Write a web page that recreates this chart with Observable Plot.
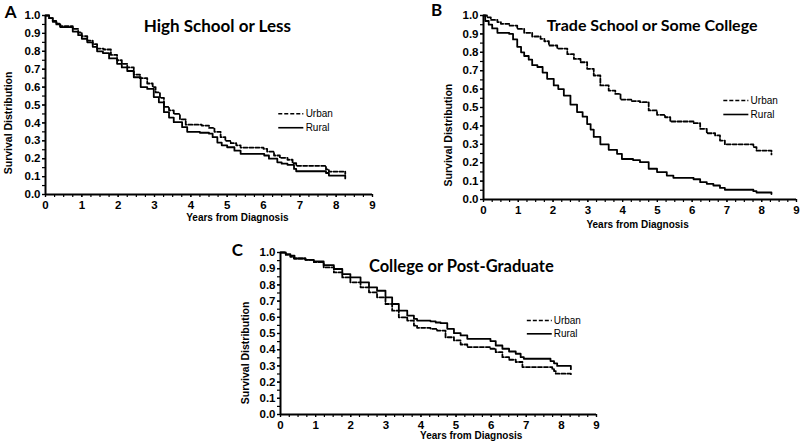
<!DOCTYPE html>
<html>
<head>
<meta charset="utf-8">
<script src="https://cdn.jsdelivr.net/npm/d3@7"></script>
<script src="https://cdn.jsdelivr.net/npm/@observablehq/plot@0.6"></script>
<style>
  body { margin: 0; background: #fff; }
  #wrap { position: relative; width: 800px; height: 443px; overflow: hidden; background: #fff; }
  #wrap > div { position: absolute; }
</style>
</head>
<body>
<div id="wrap">
  <div id="pc" style="left:190px;top:222px"></div>
  <div id="pa" style="left:0px;top:0px"></div>
  <div id="pb" style="left:400px;top:0px"></div>
</div>
<script>
// ---- data ----
const yearTicks = [0, 1, 2, 3, 4, 5, 6, 7, 8, 9];
const survivalTicks = [0, 0.1, 0.2, 0.3, 0.4, 0.5, 0.6, 0.7, 0.8, 0.9, 1.0];
const seriesNames = ["Urban", "Rural"];
const panelLetters = ["A", "B", "C"];
const panelTitles = ["High School or Less", "Trade School or Some College", "College or Post-Graduate"];
const xAxisTitle = "Years from Diagnosis";
const yAxisTitle = "Survival Distribution";

// Panel A: High School or Less
const aUrbanT = [0, 0.1, 0.2, 0.3, 0.4, 0.75, 0.9, 1.0, 1.15, 1.3, 1.42, 1.6, 1.8, 1.97, 2.1, 2.25, 2.43, 2.6, 2.8, 2.95, 3.03, 3.15, 3.26, 3.4, 3.53, 3.7, 3.86, 4.3, 4.5, 4.65, 4.82, 4.95, 5.1, 5.25, 5.37, 6.0, 6.1, 6.29, 6.45, 6.66, 6.8, 6.9, 7.72, 7.8, 8.25];
const aUrbanS = [1.0, 0.985, 0.97, 0.955, 0.94, 0.925, 0.905, 0.885, 0.86, 0.84, 0.815, 0.81, 0.78, 0.75, 0.73, 0.71, 0.67, 0.65, 0.62, 0.60, 0.57, 0.54, 0.49, 0.47, 0.45, 0.42, 0.39, 0.385, 0.372, 0.35, 0.32, 0.30, 0.287, 0.275, 0.262, 0.255, 0.24, 0.218, 0.205, 0.194, 0.175, 0.16, 0.14, 0.128, 0.115];
const aRuralT = [0, 0.1, 0.2, 0.3, 0.41, 0.75, 0.9, 1.0, 1.15, 1.3, 1.42, 1.58, 1.75, 1.97, 2.1, 2.25, 2.43, 2.62, 2.8, 2.98, 3.12, 3.26, 3.4, 3.53, 3.76, 3.9, 4.25, 4.5, 4.6, 4.73, 4.85, 5.0, 5.2, 5.37, 6.02, 6.15, 6.38, 6.5, 6.66, 6.84, 6.9, 7.72, 7.8, 8.25];
const aRuralS = [1.0, 0.985, 0.965, 0.95, 0.935, 0.91, 0.89, 0.87, 0.85, 0.825, 0.80, 0.79, 0.76, 0.73, 0.71, 0.69, 0.655, 0.60, 0.59, 0.544, 0.515, 0.46, 0.43, 0.404, 0.376, 0.35, 0.345, 0.34, 0.32, 0.29, 0.275, 0.264, 0.245, 0.227, 0.218, 0.20, 0.18, 0.172, 0.166, 0.143, 0.13, 0.12, 0.106, 0.09];

// Panel B: Trade School or Some College
const bUrbanT = [0, 0.1, 0.21, 0.4, 0.5, 0.75, 0.97, 1.17, 1.4, 1.64, 1.75, 1.88, 2.12, 2.41, 2.6, 2.79, 2.98, 3.17, 3.36, 3.6, 3.79, 3.94, 4.25, 4.5, 4.75, 4.99, 5.22, 5.37, 6.04, 6.23, 6.42, 6.66, 6.8, 6.94, 7.76, 7.85, 8.28];
const bUrbanS = [1.0, 0.99, 0.976, 0.964, 0.955, 0.945, 0.927, 0.906, 0.886, 0.873, 0.86, 0.837, 0.82, 0.79, 0.764, 0.746, 0.71, 0.674, 0.62, 0.592, 0.574, 0.543, 0.535, 0.529, 0.484, 0.46, 0.447, 0.424, 0.415, 0.384, 0.36, 0.348, 0.32, 0.30, 0.285, 0.266, 0.245];
const bRuralT = [0, 0.05, 0.15, 0.25, 0.4, 0.74, 0.85, 0.97, 1.08, 1.17, 1.3, 1.4, 1.55, 1.7, 1.83, 2.02, 2.15, 2.31, 2.5, 2.69, 2.85, 2.98, 3.08, 3.17, 3.36, 3.6, 3.84, 3.98, 4.3, 4.5, 4.75, 4.99, 5.27, 5.46, 6.04, 6.23, 6.42, 6.61, 6.8, 6.94, 7.76, 7.85, 8.28];
const bRuralS = [1.0, 0.97, 0.95, 0.93, 0.906, 0.90, 0.87, 0.83, 0.80, 0.78, 0.76, 0.73, 0.72, 0.69, 0.656, 0.62, 0.60, 0.565, 0.516, 0.475, 0.45, 0.41, 0.38, 0.34, 0.30, 0.27, 0.248, 0.22, 0.214, 0.203, 0.167, 0.149, 0.13, 0.118, 0.11, 0.094, 0.085, 0.076, 0.063, 0.053, 0.045, 0.038, 0.03];

// Panel C: College or Post-Graduate
const cUrbanT = [0, 0.15, 0.28, 0.38, 0.71, 0.95, 1.23, 1.52, 1.76, 1.99, 2.28, 2.52, 2.75, 2.99, 3.18, 3.37, 3.61, 3.8, 3.89, 4.27, 4.46, 4.7, 4.94, 5.13, 5.32, 5.98, 6.13, 6.32, 6.51, 6.7, 6.89, 7.74, 7.79, 7.84, 8.27];
const cUrbanS = [1.0, 0.985, 0.973, 0.963, 0.955, 0.94, 0.908, 0.877, 0.846, 0.816, 0.785, 0.754, 0.723, 0.682, 0.641, 0.60, 0.58, 0.549, 0.535, 0.529, 0.518, 0.477, 0.457, 0.432, 0.416, 0.406, 0.385, 0.354, 0.338, 0.324, 0.293, 0.28, 0.268, 0.252, 0.245];
const cRuralT = [0, 0.15, 0.28, 0.4, 0.71, 0.95, 1.23, 1.52, 1.76, 1.99, 2.28, 2.52, 2.75, 2.99, 3.18, 3.37, 3.61, 3.8, 3.89, 4.27, 4.42, 4.56, 4.75, 4.94, 5.13, 5.32, 5.98, 6.13, 6.32, 6.51, 6.7, 6.84, 6.93, 7.69, 7.79, 7.88, 8.27];
const cRuralS = [1.0, 0.99, 0.98, 0.963, 0.955, 0.945, 0.922, 0.898, 0.867, 0.846, 0.816, 0.785, 0.764, 0.723, 0.682, 0.641, 0.61, 0.59, 0.58, 0.575, 0.568, 0.564, 0.529, 0.502, 0.488, 0.467, 0.453, 0.426, 0.406, 0.389, 0.375, 0.354, 0.344, 0.33, 0.316, 0.30, 0.28];

// ---- drawing ----
const axisFont = "'Liberation Sans', Arial, sans-serif";
const titleFont = "Lato, 'Open Sans', sans-serif";

function toRows(ts, ss) { return ts.map((t, i) => ({t, s: ss[i]})); }

function panel(cfg) {
  const minorX = d3.range(0, 9.0001, 0.25);
  const minorY = d3.range(0, 1.0001, 0.05);
  const urban = toRows(cfg.urbanT, cfg.urbanS);
  const rural = toRows(cfg.ruralT, cfg.ruralS);
  return Plot.plot({
    width: cfg.width, height: cfg.height,
    marginLeft: cfg.mL, marginRight: cfg.mR, marginTop: cfg.mT, marginBottom: cfg.mB,
    x: {domain: [0, 9], axis: null},
    y: {domain: [0, 1], axis: null},
    style: {fontFamily: axisFont, fontWeight: "bold", fontSize: "11.5px", color: "#000", background: "transparent", overflow: "visible"},
    marks: [
      Plot.axisX(minorX, {tickSize: 3, tickFormat: () => "", label: null, strokeWidth: 1.2}),
      Plot.axisX(yearTicks, {tickSize: 3, tickPadding: 3, label: null, strokeWidth: 1.2, fontSize: 11.5}),
      Plot.axisY(minorY, {tickSize: 3, tickFormat: () => "", label: null, strokeWidth: 1.2}),
      Plot.axisY(survivalTicks, {tickSize: 3, tickPadding: 2, tickFormat: d3.format(".1f"), label: null, strokeWidth: 1.2, fontSize: 11.5}),
      Plot.ruleX([0], {y1: 0, y2: 1, strokeWidth: 2, stroke: "#000"}),
      Plot.ruleY([0], {x1: 0, x2: 9, strokeWidth: 2, stroke: "#000"}),
      Plot.line(urban, {x: "t", y: "s", curve: "step-after", stroke: "#000", strokeWidth: 1.8, strokeDasharray: "4,2"}),
      Plot.line(rural, {x: "t", y: "s", curve: "step-after", stroke: "#000", strokeWidth: 1.8}),
      // legend
      Plot.ruleY([cfg.leg.yU], {x1: cfg.leg.x1, x2: cfg.leg.x2, stroke: "#000", strokeWidth: 1.6, strokeDasharray: "4,2"}),
      Plot.ruleY([cfg.leg.yR], {x1: cfg.leg.x1, x2: cfg.leg.x2, stroke: "#000", strokeWidth: 1.6}),
      Plot.text([seriesNames[0]], {x: cfg.leg.tx, y: cfg.leg.yU, text: d => d, textAnchor: "start", fontFamily: axisFont, fontWeight: "normal", fontSize: 10, fill: "#000"}),
      Plot.text([seriesNames[1]], {x: cfg.leg.tx, y: cfg.leg.yR, text: d => d, textAnchor: "start", fontFamily: axisFont, fontWeight: "normal", fontSize: 10, fill: "#000"}),
      // titles
      Plot.text([cfg.title], {x: cfg.titlePos[0], y: cfg.titlePos[1], text: d => d, fontFamily: titleFont, fontWeight: "bold", fontSize: cfg.titleSize, fill: "#000"}),
      Plot.text([cfg.letter], {x: cfg.letterPos[0], y: cfg.letterPos[1], text: d => d, fontFamily: titleFont, fontWeight: "bold", fontSize: 17, fill: "#000"}),
      Plot.text([xAxisTitle], {x: cfg.xLab[0], y: cfg.xLab[1], text: d => d, fontFamily: axisFont, fontWeight: "bold", fontSize: 10, fill: "#000"}),
      Plot.text([yAxisTitle], {x: cfg.yLab[0], y: cfg.yLab[1], text: d => d, rotate: -90, fontFamily: axisFont, fontWeight: "bold", fontSize: 10.5, fill: "#000"})
    ]
  });
}

const cfgA = {
  width: 400, height: 222, mL: 45, mR: 28, mT: 15, mB: 28,
  urbanT: aUrbanT, urbanS: aUrbanS, ruralT: aRuralT, ruralS: aRuralS,
  title: panelTitles[0], letter: panelLetters[0], titleSize: 17,
  titlePos: [4.73, 0.94], letterPos: [-0.96, 1.017],
  leg: {x1: 6.42, x2: 7.11, tx: 7.16, yU: 0.451, yR: 0.373},
  xLab: [5.28, -0.13], yLab: [-1.01, 0.40]
};
const cfgB = {
  width: 400, height: 228, mL: 83, mR: 4, mT: 15, mB: 29,
  urbanT: bUrbanT, urbanS: bUrbanS, ruralT: bRuralT, ruralS: bRuralS,
  title: panelTitles[1], letter: panelLetters[1], titleSize: 16,
  titlePos: [4.85, 0.946], letterPos: [-1.35, 1.027],
  leg: {x1: 6.91, x2: 7.63, tx: 7.68, yU: 0.538, yR: 0.462},
  xLab: [4.43, -0.14], yLab: [-1.0, 0.35]
};
const cfgC = {
  width: 420, height: 221, mL: 90, mR: 14, mT: 30, mB: 29,
  urbanT: cUrbanT, urbanS: cUrbanS, ruralT: cRuralT, ruralS: cRuralS,
  title: panelTitles[2], letter: panelLetters[2], titleSize: 16.5,
  titlePos: [5.15, 0.914], letterPos: [-1.23, 1.012],
  leg: {x1: 7.03, x2: 7.74, tx: 7.78, yU: 0.58, yR: 0.498},
  xLab: [5.43, -0.13], yLab: [-1.0, 0.38]
};

document.getElementById("pa").append(panel(cfgA));
document.getElementById("pb").append(panel(cfgB));
document.getElementById("pc").append(panel(cfgC));
</script>
</body>
</html>
